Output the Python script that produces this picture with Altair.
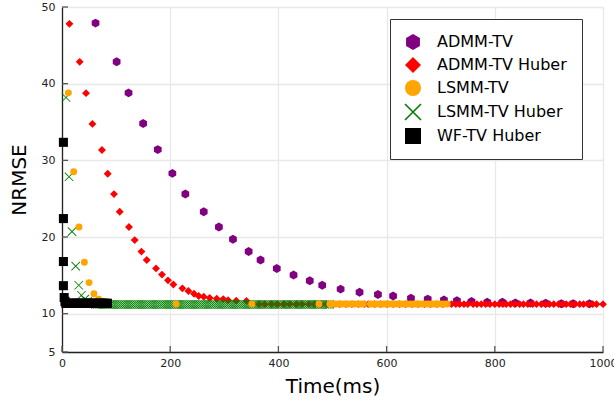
import altair as alt
import pandas as pd

series_names = ["ADMM-TV", "ADMM-TV Huber", "LSMM-TV", "LSMM-TV Huber", "WF-TV Huber"]
series_colors = ["#800080", "#ff0000", "#ffa500", "#008000", "#000000"]
HEX = "M0,-1L0.866,-0.5L0.866,0.5L0,1L-0.866,0.5L-0.866,-0.5Z"
XMARK = ("M-1.071,-0.929L0.929,1.071L1.071,0.929L-0.929,-1.071Z"
         "M-0.929,1.071L1.071,-0.929L0.929,-1.071L-1.071,0.929Z")
series_shapes = [HEX, "diamond", "circle", XMARK, "square"]
series_sizes = {"ADMM-TV": 80, "ADMM-TV Huber": 62, "LSMM-TV": 48, "LSMM-TV Huber": 72, "WF-TV Huber": 82}

# ADMM-TV
admm_t = [62, 101, 123, 150, 177, 204, 228, 262, 290, 316, 345, 367, 397, 428, 458, 481,
          515, 550, 584, 612, 645, 676, 706, 730, 757, 786, 814, 838, 866, 894, 923, 945, 975]
admm_v = [47.9, 42.85, 38.8, 34.8, 31.4, 28.3, 25.6, 23.3, 21.3, 19.7, 18.1, 17.0, 15.9, 15.05, 14.3, 13.7,
          13.2, 12.8, 12.5, 12.3, 12.0, 11.9, 11.8, 11.7, 11.6, 11.5, 11.5, 11.4, 11.4, 11.35, 11.3, 11.3, 11.3]

# ADMM-TV Huber
admmh_t = [13.7, 32.7, 44.4, 56.2, 73.9, 84.5, 96.1, 106.7, 123.8, 134.4, 146.8, 156.6, 173.8, 184.8,
           195.9, 205.9, 222.5, 233.6, 244, 252.7, 262, 273, 286, 298, 307, 322, 341]
admmh_v = [47.8, 42.85, 38.76, 34.75, 31.35, 28.25, 25.6, 23.3, 21.3, 19.6, 18.1, 17.0, 15.9, 15.1,
           14.35, 13.8, 13.3, 12.95, 12.6, 12.3, 12.2, 12.05, 11.95, 11.9, 11.75, 11.7, 11.65]
admmh_flat_t = [352, 364, 375, 387, 398, 410, 421, 433, 444, 456, 467, 479, 490, 502, 513, 525, 536,
                548, 559, 566, 578, 589, 601, 612, 624, 635, 647, 658, 670, 681, 693, 704,
                720, 728, 735, 743, 750, 760, 767, 775, 783, 791, 800, 808, 815, 821, 829, 837,
                846, 853, 861, 870, 877, 886, 894, 901, 909, 918, 926, 932, 940, 948, 957, 964,
                973, 981, 988, 1000]
admmh_flat_v = 11.24

# LSMM-TV
lsmm_t = [11.8, 21.6, 31.4, 41.4, 50, 59, 67.8, 75.8]
lsmm_v = [38.8, 28.5, 21.3, 16.7, 14.05, 12.6, 11.9, 11.6]
lsmm_flat_t = [211, 351, 475, 495, 500, 506, 512, 517, 523, 529, 535, 540, 546, 552, 557, 570, 576,
               581, 587, 593, 598, 604, 610, 616, 621, 627, 633, 638, 644, 650, 655, 661, 667,
               673, 678, 684, 690, 695, 701, 707, 712]
lsmm_flat_v = 11.25

# LSMM-TV Huber
lsmmh_t = [7.4, 13, 18.5, 25.3, 30.9, 35.9, 42, 47.5, 53, 58.5]
lsmmh_v = [38.2, 27.85, 20.7, 16.2, 13.7, 12.4, 11.9, 11.6, 11.4, 11.3]
lsmmh_flat_t = [62, 66, 70, 74, 78, 82, 86, 90, 94, 98, 102, 106, 110, 114, 118, 122, 126, 130,
                134, 138, 142, 146, 150, 154, 158, 162, 166, 170, 174, 178, 182, 186, 190, 194,
                198, 202, 206, 210, 214, 218, 222, 226, 230, 234, 238, 242, 246, 250, 254, 258,
                262, 266, 270, 274, 278, 282, 286, 290, 294, 298, 302, 306, 310, 314, 318, 322,
                326, 330, 334, 338, 342, 346, 350, 354, 358, 362, 366, 370, 374, 378, 382, 386,
                390, 394, 398, 402, 406, 410, 414, 418, 422, 426, 430, 434, 438, 442, 446, 450,
                454, 458, 462, 466, 470, 474, 478, 482, 486, 490, 494]
lsmmh_flat_v = 11.2

# WF-TV Huber
wf_t = [2.6, 2.6, 2.6, 2.6, 4, 5.5]
wf_v = [32.35, 22.4, 16.8, 13.65, 12.1, 11.6]
wf_flat_t = [7, 9.5, 12, 14.5, 17, 19.5, 22, 24.5, 27, 29.5, 32, 34.5, 37, 39.5, 42, 44.5, 47,
             49.5, 52, 54.5, 57, 59.5, 62, 64.5, 67, 69.5, 72, 74.5, 77, 79.5, 82, 84]
wf_flat_v = 11.35

x_ticks = [0, 200, 400, 600, 800, 1000]
y_ticks = [5, 10, 20, 30, 40, 50]

rows = []
def add(name, ts, vs):
    for t, v in zip(ts, vs):
        rows.append({"Time": t, "NRMSE": v, "series": name})

def add_flat(name, ts, level):
    for t in ts:
        rows.append({"Time": t, "NRMSE": level, "series": name})

add("ADMM-TV", admm_t, admm_v)
add("ADMM-TV Huber", admmh_t, admmh_v)
add_flat("ADMM-TV Huber", admmh_flat_t, admmh_flat_v)
add("LSMM-TV Huber", lsmmh_t, lsmmh_v)
add_flat("LSMM-TV Huber", lsmmh_flat_t, lsmmh_flat_v)
add("LSMM-TV", lsmm_t, lsmm_v)
add_flat("LSMM-TV", lsmm_flat_t, lsmm_flat_v)
add("WF-TV Huber", wf_t, wf_v)
add_flat("WF-TV Huber", wf_flat_t, wf_flat_v)
df = pd.DataFrame(rows)

FONT = "DejaVu Sans"
xscale = alt.Scale(domain=[0, 1000], nice=False, zero=False)
yscale = alt.Scale(domain=[5, 50], nice=False, zero=False)

xaxis = alt.Axis(values=x_ticks, format="d", titleFontSize=20, titleFont=FONT,
                 titleFontWeight="normal", titleColor="#000", titlePadding=8,
                 labelFont=FONT, labelFontSize=11, labelColor="#222", labelPadding=5,
                 labelFlush=False, tickSize=0, domainColor="#222", domainWidth=1.3,
                 grid=True, gridColor="#e8e8e8", gridWidth=1.3)
yaxis = alt.Axis(values=y_ticks, format="d", titleFontSize=20, titleFont=FONT,
                 titleFontWeight="normal", titleColor="#000", titlePadding=12,
                 labelFont=FONT, labelFontSize=11, labelColor="#222", labelPadding=7,
                 labelFlush=False, tickSize=0, domainColor="#222", domainWidth=1.3,
                 grid=True, gridColor="#e8e8e8", gridWidth=1.3)
legend = alt.Legend(title=None, orient="none", legendX=328, legendY=12,
                    padding=15, strokeColor="#333", fillColor="white",
                    labelFont=FONT, labelFontSize=16, labelColor="#000",
                    symbolSize=256, rowPadding=7, labelOffset=16,
                    symbolStrokeWidth=0, symbolOpacity=1)

draw_order = ["ADMM-TV", "ADMM-TV Huber", "LSMM-TV Huber", "LSMM-TV", "WF-TV Huber"]
layers = []
for name in draw_order:
    layers.append(
        alt.Chart(df).transform_filter(alt.datum.series == name)
        .mark_point(filled=True, opacity=1, strokeWidth=0, size=series_sizes[name])
        .encode(
            x=alt.X("Time:Q", scale=xscale, axis=xaxis, title="Time(ms)"),
            y=alt.Y("NRMSE:Q", scale=yscale, axis=yaxis, title="NRMSE"),
            color=alt.Color("series:N", scale=alt.Scale(domain=series_names, range=series_colors),
                            legend=legend),
            shape=alt.Shape("series:N", scale=alt.Scale(domain=series_names, range=series_shapes)),
        )
    )

ytick_df = pd.DataFrame({"v": y_ticks})
xtick_df = pd.DataFrame({"t": x_ticks})
yticks = alt.Chart(ytick_df).mark_rule(color="#555", strokeWidth=1.3).encode(
    y=alt.Y("v:Q", scale=yscale, title="NRMSE"), x=alt.value(0), x2=alt.value(6))
xticks = alt.Chart(xtick_df).mark_rule(color="#555", strokeWidth=1.3).encode(
    x=alt.X("t:Q", scale=xscale, title="Time(ms)"), y=alt.value(345), y2=alt.value(339))

chart = alt.layer(*layers, yticks, xticks).properties(
    width=541, height=345,
    padding={"left": 62, "top": 7, "right": 11, "bottom": 50},
    autosize=alt.AutoSizeParams(type="none"),
    background="white",
).configure_view(stroke=None)

chart.save("out.html", embed_options={"renderer": "svg", "actions": False})
